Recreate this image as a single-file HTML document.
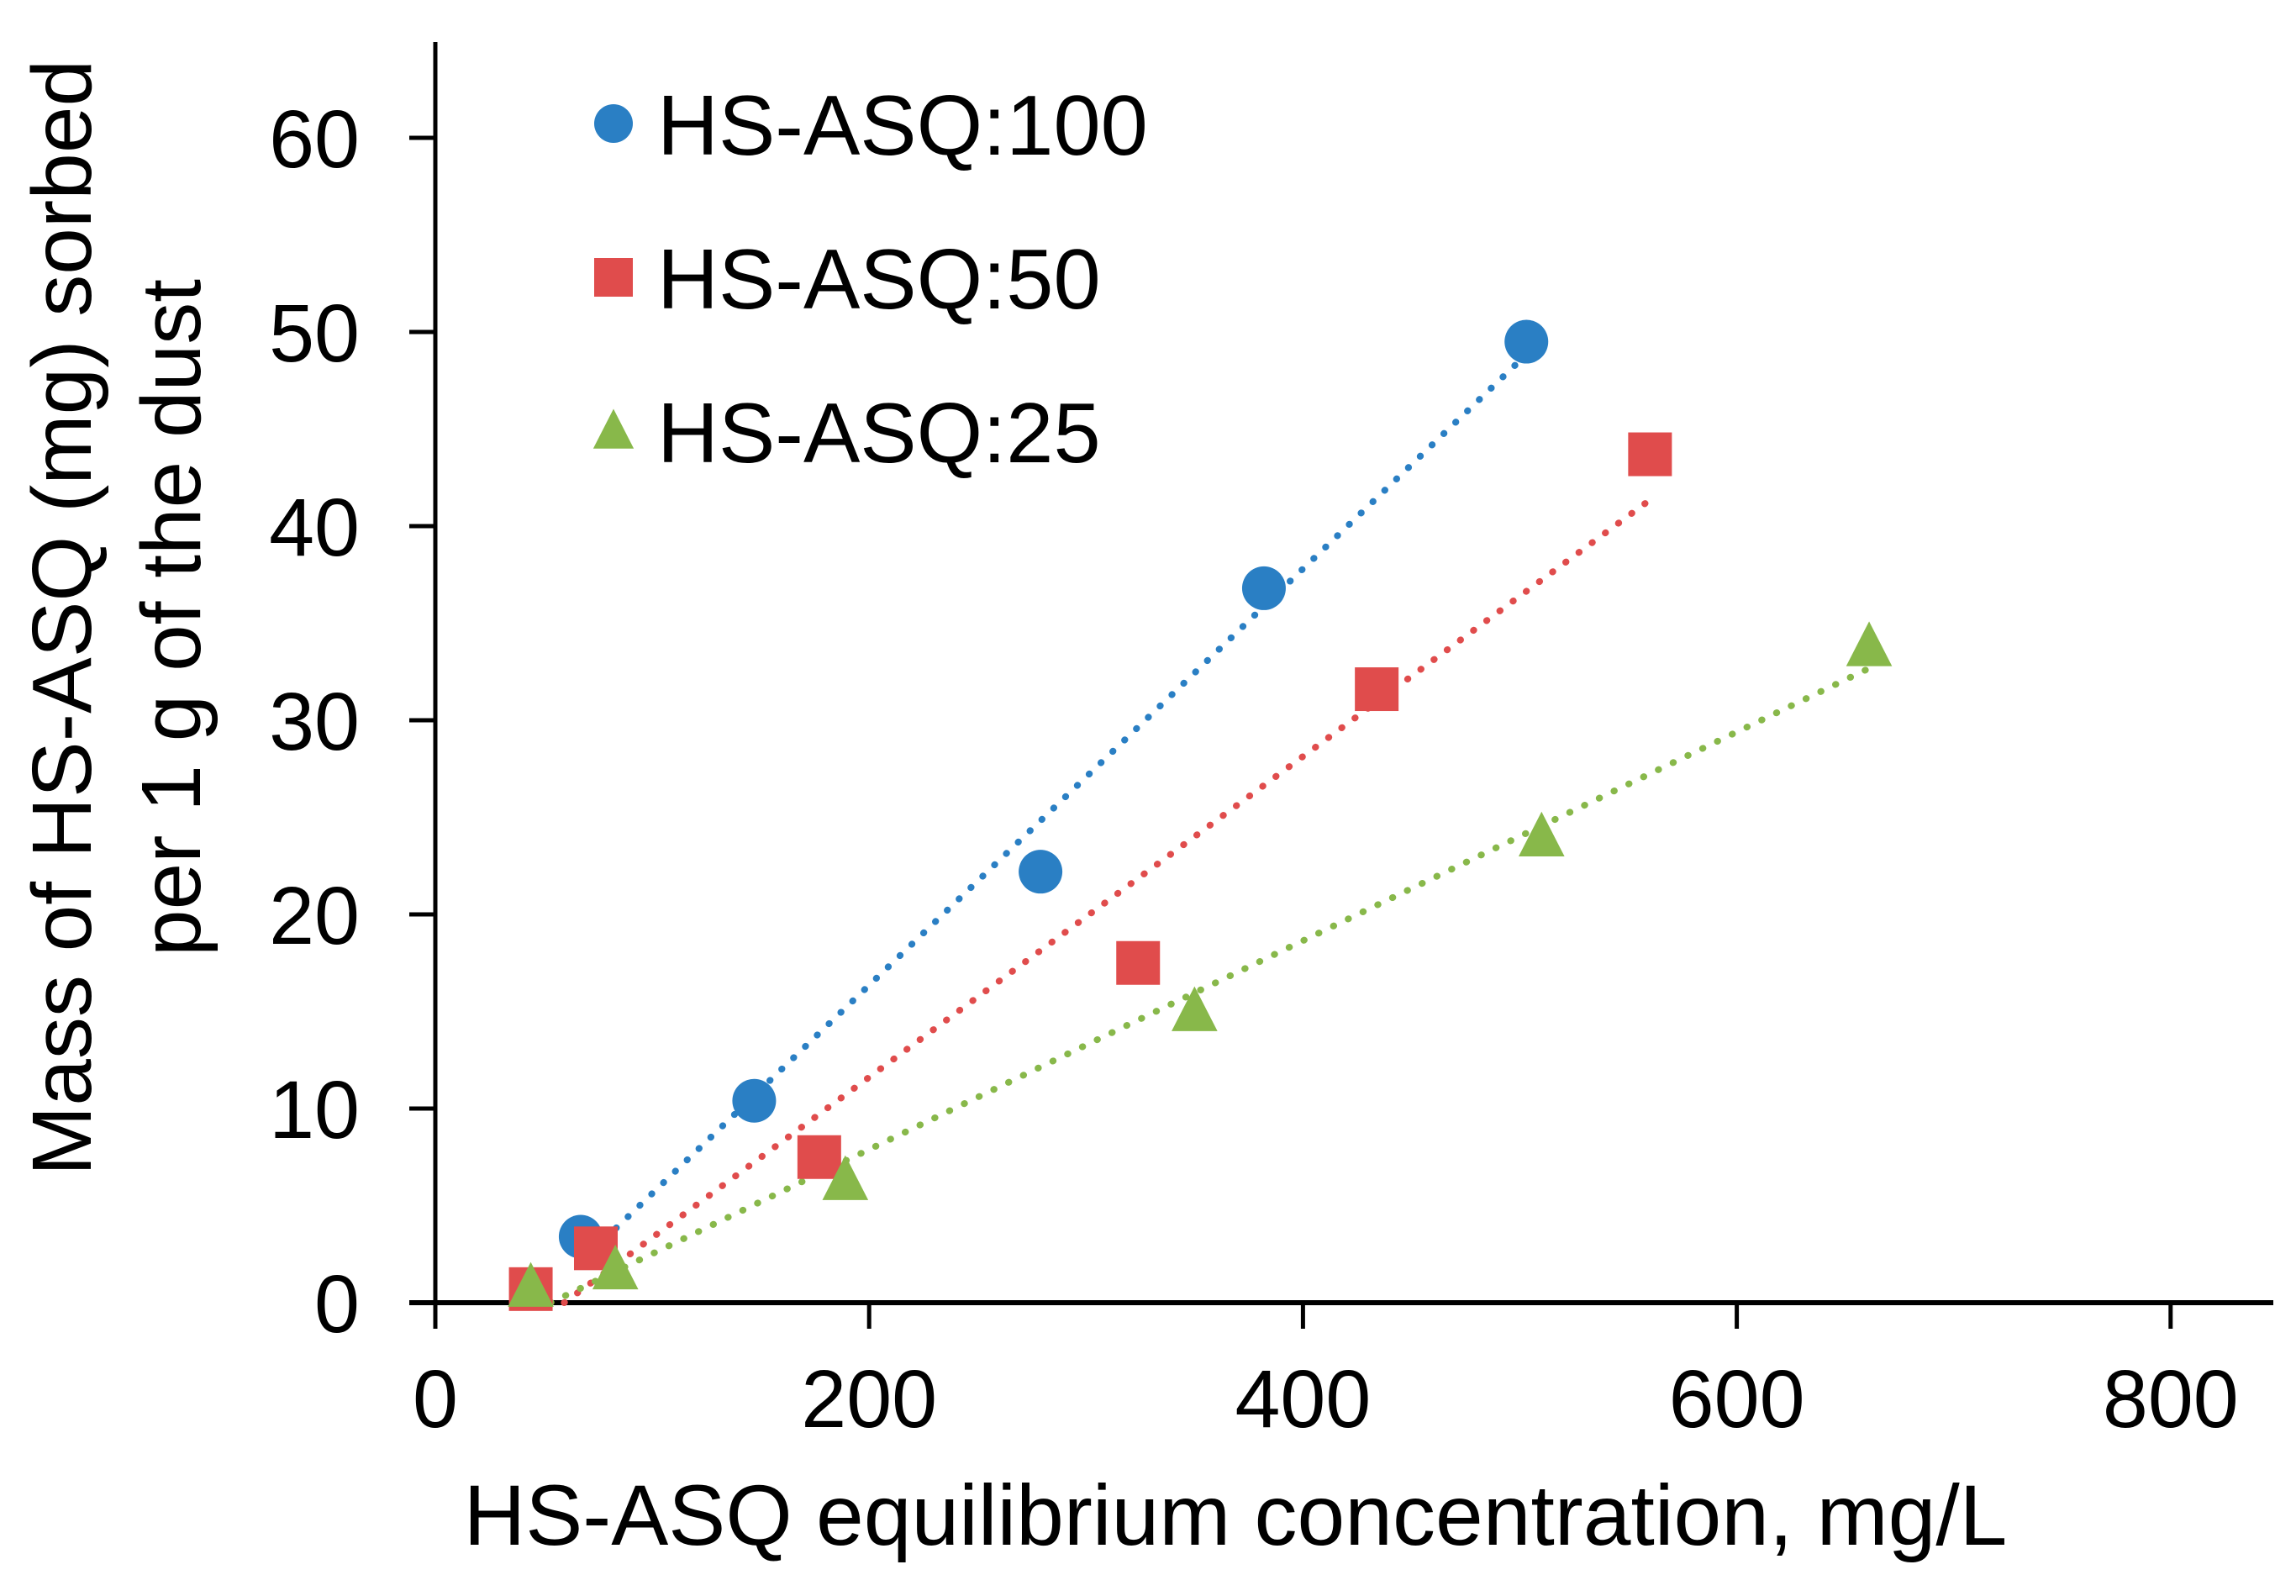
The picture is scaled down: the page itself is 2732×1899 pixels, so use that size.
<!DOCTYPE html>
<html><head><meta charset="utf-8"><style>
html,body{margin:0;padding:0;background:#fff;}
svg{display:block;font-family:"Liberation Sans",Arial,sans-serif;}
</style></head><body>
<svg id="chart" width="2732" height="1899" viewBox="0 0 2732 1899">
<g id="axes"></g><g id="lines"></g><g id="marks"></g><g id="legend"></g>
<text x="1470" y="1838" font-size="102" text-anchor="middle">HS-ASQ equilibrium concentration, mg/L</text>
<text transform="translate(108,735) rotate(-90)" font-size="100" text-anchor="middle">Mass of HS-ASQ (mg) sorbed</text>
<text transform="translate(238,735) rotate(-90)" font-size="100" text-anchor="middle">per 1 g of the dust</text>
</svg>
<script>
const xTicks=[0,200,400,600,800];
const yTicks=[0,10,20,30,40,50,60];
const seriesNames=["HS-ASQ:100","HS-ASQ:50","HS-ASQ:25"];
const blueX=[67,147,279,382,503];
const blueY=[3.4,10.4,22.2,36.8,49.5];
const redX=[44,74,177,324,434,560];
const redY=[0.7,2.8,7.5,17.5,31.6,43.7];
const greenX=[44,83,189,350,510,661];
const greenY=[0.8,1.7,6.3,15,24,33.8];

const NS="http://www.w3.org/2000/svg";
const X0=518,XPX=2.581,Y0=1550,YPX=23.1;
function sx(v){return X0+v*XPX;}
function sy(v){return Y0-v*YPX;}
function mk(tag,attrs,parent){const e=document.createElementNS(NS,tag);for(const k in attrs)e.setAttribute(k,attrs[k]);parent.appendChild(e);return e;}
const axes=document.getElementById('axes'),lines=document.getElementById('lines'),marks=document.getElementById('marks'),legend=document.getElementById('legend');

let a=mk('line',{x1:X0,y1:50,x2:X0,y2:Y0+4,stroke:'#000','stroke-width':5},axes);


a=mk('line',{x1:487,y1:Y0,x2:2705,y2:Y0,stroke:'#000','stroke-width':6},axes);


yTicks.forEach(v=>{
 const t=mk('line',{x1:487,y1:sy(v),x2:X0,y2:sy(v),stroke:'#000','stroke-width':5},axes);
 
 
 const l=mk('text',{x:428,y:sy(v)+35,'font-size':97,'text-anchor':'end'},axes);l.textContent=v;
 
 
});
xTicks.forEach(v=>{
 const t=mk('line',{x1:sx(v),y1:Y0,x2:sx(v),y2:Y0+31,stroke:'#000','stroke-width':5},axes);
 
 
 const l=mk('text',{x:sx(v),y:1698,'font-size':97,'text-anchor':'middle'},axes);l.textContent=v;
 
 
});
const series=[
 {xs:blueX,ys:blueY,c:'#2a7fc4',s:'circle',n:'blue'},
 {xs:redX,ys:redY,c:'#e04c4c',s:'square',n:'red'},
 {xs:greenX,ys:greenY,c:'#88b84a',s:'triangle',n:'green'}];
function marker(shape,cx,cy,c,parent,r){
 if(shape==='circle')return mk('circle',{cx:cx,cy:cy,r:r,fill:c},parent);
 if(shape==='square')return mk('rect',{x:cx-r,y:cy-r,width:2*r,height:2*r,fill:c},parent);
 return mk('polygon',{points:`${cx},${cy-r*1.15} ${cx-r*1.05},${cy+r*0.9} ${cx+r*1.05},${cy+r*0.9}`,fill:c},parent);
}
series.forEach((S,si)=>{
 const n=S.xs.length;let mx=0,my=0;S.xs.forEach((x,i)=>{mx+=x;my+=S.ys[i];});mx/=n;my/=n;
 let sxy=0,sxx=0;S.xs.forEach((x,i)=>{sxy+=(x-mx)*(S.ys[i]-my);sxx+=(x-mx)*(x-mx);});
 const b=sxy/sxx,a0=my-b*mx;
 let xa=Math.min(...S.xs),xb=Math.max(...S.xs);
 if(a0+b*xa<0)xa=-a0/b;
 const ln=mk('line',{x1:sx(xa),y1:sy(a0+b*xa),x2:sx(xb),y2:sy(a0+b*xb),stroke:S.c,'stroke-width':8,'stroke-linecap':'round','stroke-dasharray':'0.5 19'},lines);
 
 
 S.xs.forEach((x,i)=>{
  const m=marker(S.s,sx(x),sy(S.ys[i]),S.c,marks,26);
  
  
 });
 const ly=147+si*183;
 const lm=marker(S.s,730,ly,S.c,legend,23);
 
 
 const lt=mk('text',{x:782,y:ly+37,'font-size':101},legend);lt.textContent=seriesNames[si];
 
 
});
</script>
</body></html>
